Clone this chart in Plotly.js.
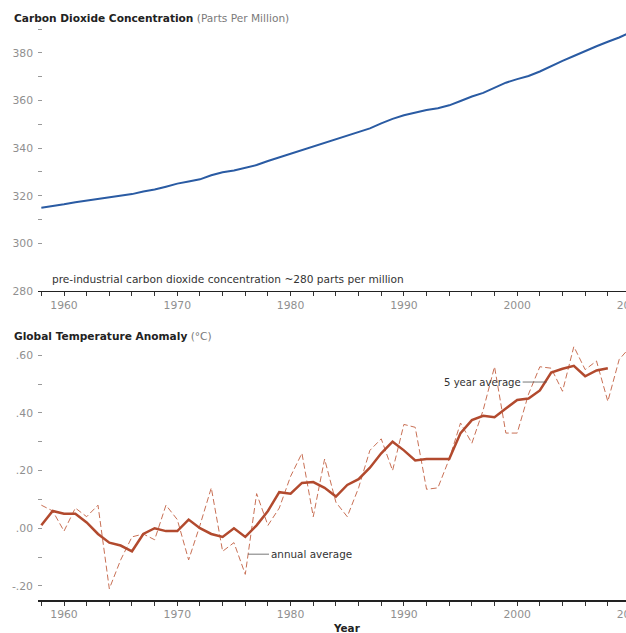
<!DOCTYPE html>
<html>
<head>
<meta charset="utf-8">
<script src="https://cdn.plot.ly/plotly-3.0.1.min.js"></script>
<style>
html, body { margin: 0; padding: 0; overflow: hidden; background: #fff; }
#chart { width: 680px; height: 633px; }
</style>
</head>
<body>
<div id="chart"></div>
<script>
// ---- Data ----
const co2Years = [1958,1959,1960,1961,1962,1963,1964,1965,1966,1967,1968,1969,1970,1971,1972,1973,1974,1975,1976,1977,1978,1979,1980,1981,1982,1983,1984,1985,1986,1987,1988,1989,1990,1991,1992,1993,1994,1995,1996,1997,1998,1999,2000,2001,2002,2003,2004,2005,2006,2007,2008,2009,2010];
const co2Values = [315.0,315.6,316.4,317.3,318.0,318.7,319.3,319.8,320.7,321.8,322.6,323.8,325.1,326.0,326.9,328.6,329.9,330.6,331.6,332.9,334.6,336.1,337.8,339.4,340.8,342.2,343.8,345.4,346.8,348.3,350.4,352.3,353.8,355.0,356.0,356.8,358.0,359.8,361.7,363.2,365.2,367.5,369.0,370.3,372.2,374.5,376.7,378.7,380.9,382.8,384.7,386.5,388.7];

const tempYears = [1958,1959,1960,1961,1962,1963,1964,1965,1966,1967,1968,1969,1970,1971,1972,1973,1974,1975,1976,1977,1978,1979,1980,1981,1982,1983,1984,1985,1986,1987,1988,1989,1990,1991,1992,1993,1994,1995,1996,1997,1998,1999,2000,2001,2002,2003,2004,2005,2006,2007,2008,2009,2010];
const tempAnnual = [0.08,0.06,-0.01,0.07,0.04,0.08,-0.21,-0.11,-0.03,-0.02,-0.04,0.08,0.03,-0.11,0.01,0.14,-0.08,-0.05,-0.16,0.12,0.01,0.07,0.18,0.26,0.04,0.24,0.09,0.04,0.14,0.27,0.31,0.20,0.36,0.35,0.135,0.14,0.24,0.365,0.295,0.41,0.56,0.33,0.33,0.465,0.56,0.555,0.475,0.63,0.55,0.58,0.44,0.585,0.63];

const avgYears = [1958,1959,1960,1961,1962,1963,1964,1965,1966,1967,1968,1969,1970,1971,1972,1973,1974,1975,1976,1977,1978,1979,1980,1981,1982,1983,1984,1985,1986,1987,1988,1989,1990,1991,1992,1993,1994,1995,1996,1997,1998,1999,2000,2001,2002,2003,2004,2005,2006,2007,2008];
const temp5yr = [0.01,0.06,0.05,0.05,0.02,-0.02,-0.05,-0.06,-0.08,-0.02,0.00,-0.01,-0.01,0.03,0.00,-0.02,-0.03,0.00,-0.03,0.01,0.06,0.125,0.12,0.157,0.16,0.14,0.11,0.15,0.17,0.21,0.26,0.30,0.27,0.235,0.24,0.24,0.24,0.33,0.375,0.39,0.385,0.415,0.445,0.45,0.478,0.54,0.553,0.563,0.527,0.547,0.555];

const xTickVals = [1958,1960,1962,1964,1966,1968,1970,1972,1974,1976,1978,1980,1982,1984,1986,1988,1990,1992,1994,1996,1998,2000,2002,2004,2006,2008,2010,2012,2014];
const xTickText = ['','1960','','','','','1970','','','','','1980','','','','','1990','','','','','2000','','','','','2010','',''];

const co2TickVals = [280,300,310,320,330,340,350,360,370,380,390];
const co2TickText = ['280','300','','320','','340','','360','','380',''];

const tempTickVals = [-0.2,-0.1,0,0.1,0.2,0.3,0.4,0.5,0.6];
const tempTickText = ['-.20','','.00','','.20','','.40','','.60'];

// ---- Styling ----
const FONT = 'DejaVu Sans, Verdana, sans-serif';
const xRange = [1957.705, 2014.37];

const xCommon = {
  range: xRange, showgrid: false, zeroline: false,
  showline: true, linecolor: '#222', linewidth: 1.5,
  ticks: 'outside', ticklen: 4, tickwidth: 1, tickcolor: '#333',
  tickmode: 'array', tickvals: xTickVals, ticktext: xTickText,
  tickfont: {family: FONT, size: 10.8, color: '#8f8f8f'}
};
const yCommon = {
  showgrid: false, zeroline: false, showline: false,
  ticks: 'inside', ticklen: 4, tickwidth: 1, tickcolor: '#999',
  ticklabelstandoff: 4,
  tickmode: 'array',
  tickfont: {family: FONT, size: 10.8, color: '#8f8f8f'}
};

const traces = [
  {x: co2Years, y: co2Values, xaxis: 'x', yaxis: 'y', mode: 'lines',
   line: {color: '#2a5ba3', width: 2}, hoverinfo: 'skip'},
  {x: tempYears, y: tempAnnual, xaxis: 'x2', yaxis: 'y2', mode: 'lines',
   line: {color: '#c87055', width: 1, dash: '6px,3px'}, hoverinfo: 'skip'},
  {x: avgYears, y: temp5yr, xaxis: 'x2', yaxis: 'y2', mode: 'lines',
   line: {color: '#b24a2e', width: 2.5}, hoverinfo: 'skip'}
];

const layout = {
  width: 680, height: 633,
  margin: {l: 38, r: 0, t: 0, b: 0},
  paper_bgcolor: '#fff', plot_bgcolor: '#fff',
  showlegend: false,
  font: {family: FONT, size: 10, color: '#333'},
  xaxis: Object.assign({}, xCommon, {anchor: 'y'}),
  yaxis: Object.assign({}, yCommon, {domain: [0.5403, 0.9615], range: [280, 392],
          tickvals: co2TickVals, ticktext: co2TickText, anchor: 'x'}),
  xaxis2: Object.assign({}, xCommon, {anchor: 'y2'}),
  yaxis2: Object.assign({}, yCommon, {domain: [0.0521, 0.4525], range: [-0.249, 0.63],
          tickvals: tempTickVals, ticktext: tempTickText, anchor: 'x2'}),
  annotations: [
    {xref: 'paper', yref: 'paper', x: -0.0405, y: 0.9715, xanchor: 'left', yanchor: 'middle',
     showarrow: false, font: {family: FONT, size: 10.6, color: '#222'},
     text: '<b>Carbon Dioxide Concentration</b> <span style="color:#7a7a7a">(Parts Per Million)</span>'},
    {xref: 'paper', yref: 'paper', x: -0.0405, y: 0.4692, xanchor: 'left', yanchor: 'middle',
     showarrow: false, font: {family: FONT, size: 10.6, color: '#222'},
     text: '<b>Global Temperature Anomaly</b> <span style="color:#7a7a7a">(°C)</span>'},
    {xref: 'x', yref: 'y', x: 1958.76, y: 285, xanchor: 'left', yanchor: 'middle',
     showarrow: false, font: {family: FONT, size: 10.6, color: '#333'},
     text: 'pre-industrial carbon dioxide concentration ~280 parts per million'},
    {xref: 'x2', yref: 'y2', x: 2002.6, y: 0.507, ax: -64, ay: 0,
     showarrow: true, arrowhead: 0, arrowwidth: 0.8, arrowcolor: '#555',
     font: {family: FONT, size: 10.1, color: '#333'}, text: '5 year average'},
    {xref: 'x2', yref: 'y2', x: 1976.24, y: -0.09, ax: 63, ay: 0,
     showarrow: true, arrowhead: 0, arrowwidth: 0.8, arrowcolor: '#555',
     font: {family: FONT, size: 10.4, color: '#333'}, text: 'annual average'},
    {xref: 'paper', yref: 'paper', x: 0.4813, y: 0.0079, xanchor: 'center', yanchor: 'middle',
     showarrow: false, font: {family: FONT, size: 10.4, color: '#222'}, text: '<b>Year</b>'}
  ]
};

Plotly.newPlot('chart', traces, layout, {displayModeBar: false, staticPlot: true});
</script>
</body>
</html>
